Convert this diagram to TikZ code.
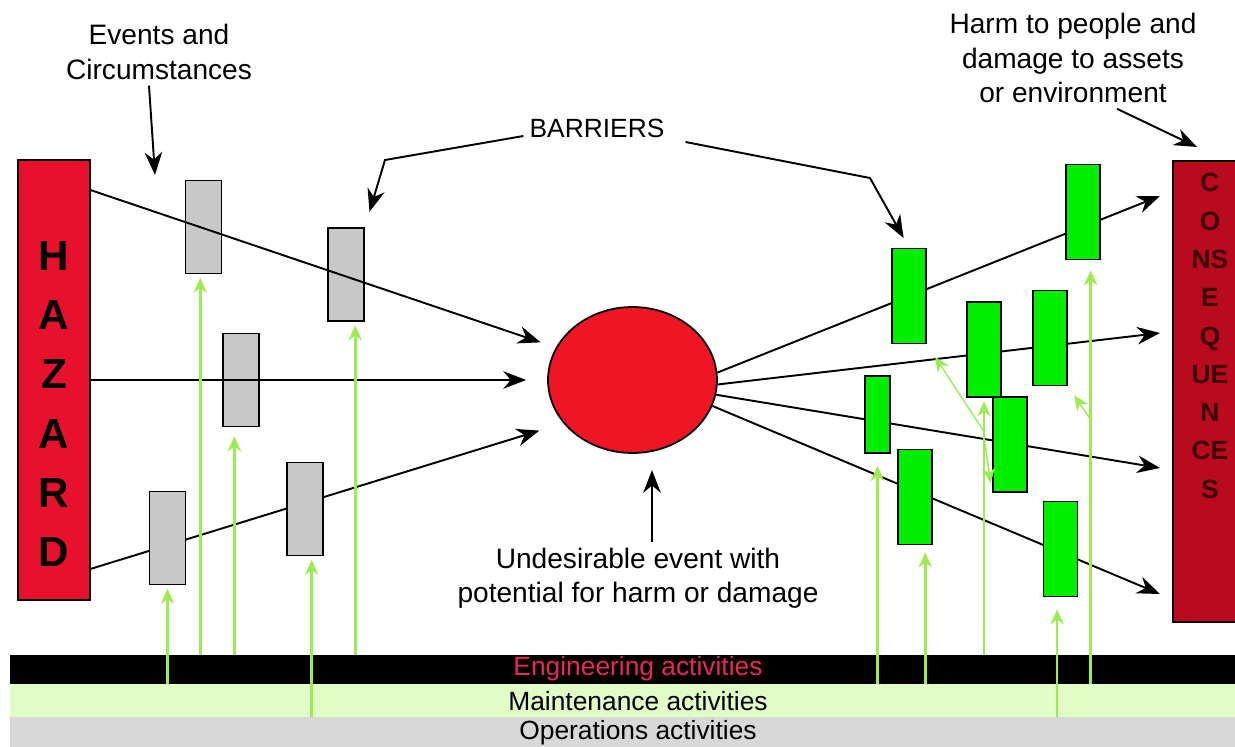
\documentclass[tikz,border=0pt]{standalone}
\usepackage{fontspec}
\setmainfont{Liberation Sans}
\usepackage{tikz}
\usetikzlibrary{arrows.meta,positioning,shapes.geometric,backgrounds}
\definecolor{hazred}{HTML}{E8112D}
\definecolor{evred}{HTML}{EE1525}
\definecolor{consred}{HTML}{BA0A1E}
\definecolor{consink}{HTML}{3A0008}
\definecolor{bargray}{HTML}{C8C8C8}
\definecolor{bargreen}{HTML}{00EE00}
\definecolor{actgreen}{HTML}{9CEB52}
\definecolor{mntgreen}{HTML}{E2FCC8}
\definecolor{opsgray}{HTML}{D8D8D8}
\definecolor{engtext}{HTML}{E8285A}

\begin{document}
\begin{tikzpicture}[x=0.02cm, y=-0.02cm,
      lbl/.style={font=\fontsize{16}{19.5}\selectfont, align=center},
      bandbox/.style={minimum width=24.5cm, inner sep=0pt, outer sep=0pt},
      bandtxt/.style={font=\fontsize{15}{15}\selectfont, inner sep=0pt},
      gbar/.style={draw, line width=1pt, fill=bargray, minimum width=0.72cm,
                   minimum height=1.86cm, inner sep=0pt},
      rbar/.style={draw, line width=1pt, fill=bargreen, minimum width=0.68cm,
                   minimum height=1.9cm, inner sep=0pt},
      arr/.style={-{Stealth[length=13pt,width=10pt]}, line width=1.1pt},
      garr/.style={-{Stealth[length=8.5pt,width=7.5pt]}, line width=1.5pt, actgreen, shorten >=2pt}
    ]
      \useasboundingbox (0,0) rectangle (1235,747);

      \node[bandbox, fill=black, minimum height=0.58cm] (engband) at (622.5,669.5) {};
      \node[bandbox, fill=mntgreen, minimum height=0.66cm] (mntband) at (622.5,700.5) {};
      \node[bandbox, fill=opsgray, minimum height=0.6cm] (opsband) at (622.5,732) {};
      \node[bandtxt, text=engtext] (engtxt) at (638,669) {Engineering activities};
      \node[bandtxt] (mnttxt) at (638,701) {Maintenance activities};
      \node[bandtxt] (opstxt) at (638,733) {Operations activities};

      \node[draw, line width=1pt, fill=hazred, minimum width=1.44cm, minimum height=8.8cm,
            inner sep=0pt] (hazard) at (54,380) {};
      \node[font=\fontsize{24}{33.8}\selectfont\bfseries, align=center] (hazlbl) at (54,404)
            {H\\A\\Z\\A\\R\\D};
      \node[draw, line width=1pt, fill=evred, ellipse, minimum width=3.38cm,
            minimum height=2.92cm, inner sep=0pt] (event) at (632.5,380) {};
      \node[draw, line width=1pt, fill=consred, minimum width=1.28cm, minimum height=9.22cm,
            inner sep=0pt] (cons) at (1205,391.5) {};
      \node[font=\fontsize{15}{21.8}\selectfont\bfseries, text=consink, align=center]
            (conslbl) at (1210,336) {C\\O\\NS\\E\\Q\\UE\\N\\CE\\S};

      \node[gbar] (g1) at (203.5,227) {};
      \node[gbar] (g2) at (346,274.5) {};
      \node[gbar] (g3) at (241,380) {};
      \node[gbar] (g4) at (167.5,538) {};
      \node[gbar] (g5) at (305,509) {};

      \node[rbar] (r1) at (909,296) {};
      \node[rbar] (r2) at (1083,212) {};
      \node[rbar] (r3) at (984,349.5) {};
      \node[rbar] (r4) at (1050,338) {};
      \node[rbar, minimum width=0.5cm, minimum height=1.54cm] (r5) at (877.5,414.5) {};
      \node[rbar] (r6) at (1010,444.5) {};
      \node[rbar] (r7) at (915,497) {};
      \node[rbar] (r8) at (1060.5,549) {};

      \coordinate (out1) at (1160,196);
      \coordinate (out2) at (1160,333);
      \coordinate (out3) at (1160,468);
      \coordinate (out4) at (1160,594);

      \begin{scope}[on background layer]
        \draw[arr, shorten >=0.5cm] ([yshift=0.64cm]hazard.south east) -- (event.212);
        \draw[arr] (event.5) -- (out1);
        \draw[arr] (event.-3) -- (out2);
        \draw[arr] (event.-10) -- (out3);
        \draw[arr] (event.-18) -- (out4);
      \end{scope}
      \draw[arr, shorten >=0.32cm] ([yshift=-0.62cm]hazard.north east) -- (event.157);
      \draw[arr, shorten >=0.42cm] (hazard.east) -- (event.west);

      \draw[garr] (g4.south |- mntband.north) -- (g4.south);
      \draw[garr] (g1.-94 |- engband.north) -- (g1.-94);
      \draw[garr, shorten >=0.18cm] (g3.-98 |- engband.north) -- (g3.-98);
      \draw[garr] (g5.-82 |- opsband.north) -- (g5.-82);
      \draw[garr] (g2.-79 |- engband.north) -- (g2.-79);
      \draw[garr, shorten >=0.24cm] (r5.south |- mntband.north) -- (r5.south);
      \draw[garr, shorten >=0.14cm] (r7.-78 |- mntband.north) -- (r7.-78);
      \draw[garr] (r3.south |- engband.north) -- (r3.south);
      \draw[garr, shorten >=0.24cm] (r8.-94 |- opsband.north) -- (r8.-94);
      \draw[garr, shorten >=0.2cm] (r2.-81 |- mntband.north) -- (r2.-81);

      \coordinate (fork1) at (983,430);
      \coordinate (fork2) at (1091,420);
      \draw[garr, line width=0.8pt, shorten >=0.3cm] (fork1) -- (r1.south east);
      \draw[garr, line width=0.8pt, shorten >=0.2cm] (fork1) -- (r6.south west);
      \draw[garr, line width=0.8pt, shorten >=0.22cm] (fork2) -- (r4.south east);

      \node[lbl] (events) at (159,52) {Events and\\Circumstances};
      \node[font=\fontsize{15}{15}\selectfont] (barriers) at (597,128) {BARRIERS};
      \node[lbl] (harm) at (1073,58) {Harm to people and\\damage to assets\\or environment};
      \node[lbl] (undes) at (638,578) {Undesirable event with\\potential for harm or damage};

      \coordinate (evtip) at (155,175);
      \coordinate (harmtip) at (1197,147);
      \coordinate (undtip) at (652,470);
      \draw[arr] ([xshift=-0.2cm]events.south) -- (evtip);
      \draw[arr, shorten >=0.32cm] ([yshift=-0.16cm]barriers.west) -- (385,160) -- (g2.north east);
      \draw[arr, shorten >=0.22cm] ([xshift=0.3cm,yshift=-0.28cm]barriers.east) -- (870,178) -- (r1.north);
      \draw[arr] ([xshift=0.88cm]harm.south) -- (harmtip);
      \draw[arr] (undes.north -| undtip) -- (undtip);
    \end{tikzpicture}
\end{document}
